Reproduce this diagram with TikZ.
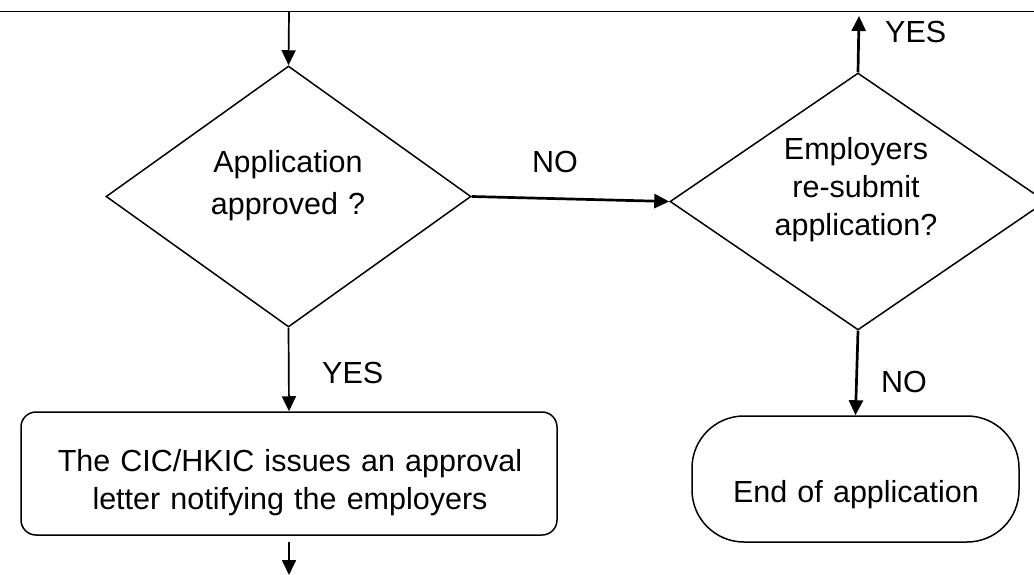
\documentclass[tikz,border=0pt]{standalone}
\usepackage{fontspec}
\setmainfont{Liberation Sans}
\usetikzlibrary{shapes.geometric,arrows.meta}
\begin{document}
\begin{tikzpicture}[x=1pt,y=-1pt,
  every node/.style={font=\fontsize{30.5pt}{38pt}\selectfont},
  conn/.style={line width=1.7pt,-{Triangle[width=14pt,length=15pt]}},
  bold conn/.style={line width=2.7pt,-{Triangle[width=14pt,length=15pt]}},
  decision/.style={diamond,draw,line width=1.5pt,inner sep=0pt},
  txt/.style={inner sep=0pt,anchor=base,text width=500pt,align=center},
  lbl/.style={inner sep=0pt,anchor=base west},
  proc/.style={draw,line width=1.5pt,inner sep=0pt,rounded corners=15pt},
  term/.style={draw,line width=1.5pt,inner sep=0pt,rounded corners=52pt}
]
\useasboundingbox (0,0) rectangle (1034,575);
\clip (0,0) rectangle (1034,575);
% top line
\coordinate (tl) at (0,11.5);
\coordinate (tr) at (1034,11.5);
\draw[line width=1.6pt] (tl) -- (tr);
% decisions
\node[decision,minimum width=365pt,minimum height=261pt] (ld) at (288.5,196.5) {};
\node[txt,font=\fontsize{30.5pt}{42pt}\selectfont] (ldt) at (288,172.7) {Application\\approved ?};
\node[decision,minimum width=376pt,minimum height=257pt] (rd) at (858,201.5) {};
\node[txt] (rdt) at (856,160) {Employers\\re-submit\\application?};
% process box
\node[proc,minimum width=536pt,minimum height=123pt] (box) at (289,473.5) {};
\node[txt] (boxt) at (290,471.7) {The CIC/HKIC issues an approval\\letter notifying the employers};
% terminal
\node[term,minimum width=327pt,minimum height=126pt] (end) at (855.5,479) {};
\node[txt] (endt) at (856,502.7) {End of application};
% connectors
\coordinate (in) at (289,11.5);
\draw[conn] (in) -- (ld.north);
\coordinate (up) at (859,16);
\draw[bold conn] (rd.north) -- (up);
\draw[bold conn] (ld.east) -- (rd.west);
\draw[conn] (ld.south) -- (box.north);
\draw[bold conn] (rd.south) -- (end.north);
\coordinate (out) at (289,575);
\draw[conn,shorten <=6pt] (box.south) -- (out);
% labels
\node[lbl] (yes1) at (885,43) {YES};
\node[lbl] (no1) at (532,172) {NO};
\node[lbl] (yes2) at (322,383) {YES};
\node[lbl] (no2) at (881,392) {NO};
\end{tikzpicture}
\end{document}
